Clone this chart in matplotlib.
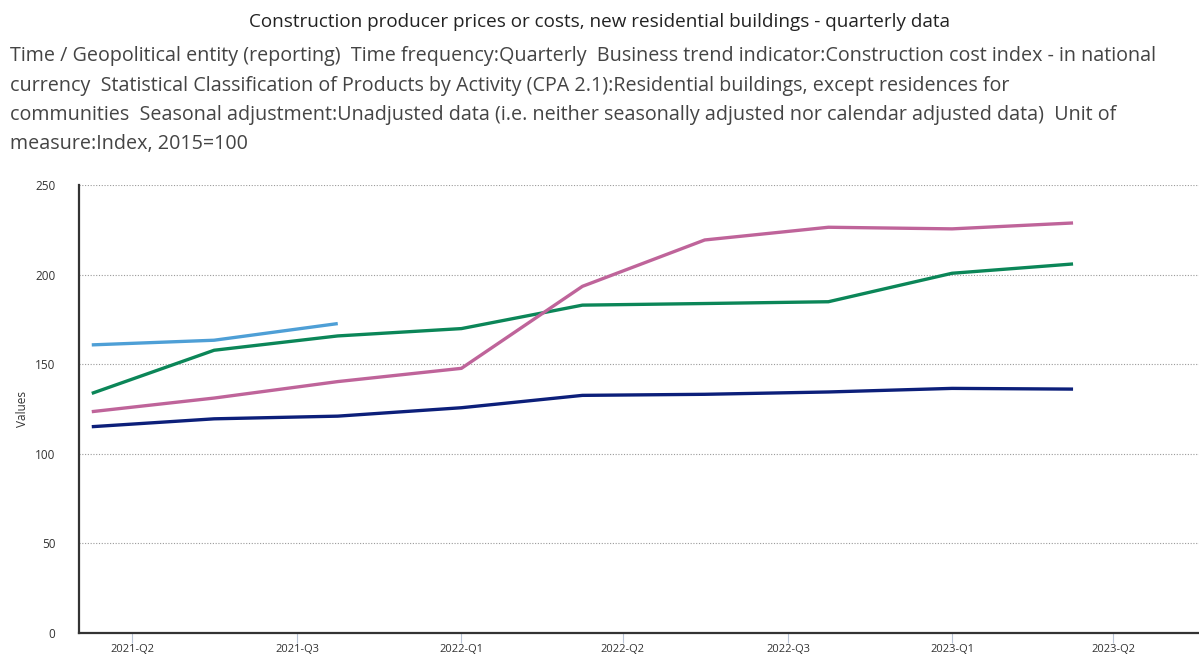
import numpy as np
import pandas as pd
import matplotlib
matplotlib.use("Agg")
import matplotlib.pyplot as plt
import matplotlib.dates as mdates

# quarterly observation dates (start of quarter)
periods = ["2021-04-01", "2021-07-01", "2021-10-01", "2022-01-01", "2022-04-01",
           "2022-07-01", "2022-10-01", "2023-01-01", "2023-04-01"]

light_blue = [160.7, 163.3, 172.6]
green = [133.6, 157.7, 165.7, 169.8, 182.9, 183.8, 184.8, 200.7, 205.9]
pink = [123.4, 131.0, 140.2, 147.6, 193.4, 219.3, 226.4, 225.5, 228.8]
navy = [115.0, 119.4, 120.9, 125.6, 132.5, 133.1, 134.4, 136.4, 136.0]

tick_dates = ["2021-05-01", "2021-09-01", "2022-01-01", "2022-05-01",
              "2022-09-01", "2023-01-01", "2023-05-01"]
tick_labels = ["2021-Q2", "2021-Q3", "2022-Q1", "2022-Q2", "2022-Q3", "2023-Q1", "2023-Q2"]
y_ticks = [0, 50, 100, 150, 200, 250]

title = "Construction producer prices or costs, new residential buildings - quarterly data"
subtitle = ["Time / Geopolitical entity (reporting)  Time frequency:Quarterly  Business trend indicator:Construction cost index - in national",
            "currency  Statistical Classification of Products by Activity (CPA 2.1):Residential buildings, except residences for",
            "communities  Seasonal adjustment:Unadjusted data (i.e. neither seasonally adjusted nor calendar adjusted data)  Unit of",
            "measure:Index, 2015=100"]

plt.rcParams['font.family'] = ['Open Sans', 'DejaVu Sans']

x = pd.to_datetime(periods)

fig = plt.figure(figsize=(11.99, 6.60), dpi=100)
ax = fig.add_axes([79 / 1199, 1 - 632.6 / 660, 1 - 79 / 1199, (632.6 - 185) / 660])

ax.plot(x[:len(light_blue)], light_blue, color="#4e9fd6", lw=2.4, solid_capstyle="butt")
ax.plot(x, green, color="#0b8658", lw=2.4, solid_capstyle="butt")
ax.plot(x, pink, color="#bf649a", lw=2.4, solid_capstyle="butt")
ax.plot(x, navy, color="#0c1f7a", lw=2.4, solid_capstyle="butt")

ax.set_ylim(0, 250)
ax.set_yticks(y_ticks)
ax.set_xlim(x[0] - pd.Timedelta(days=9.5), x[-1] + pd.Timedelta(days=93.7))
ax.set_xticks(pd.to_datetime(tick_dates))
ax.set_xticklabels(tick_labels)

ax.grid(axis="y", linestyle=(0, (1, 1.5)), color="#9a9a9a", lw=0.8)
ax.set_axisbelow(True)
for s in ["top", "right"]:
    ax.spines[s].set_visible(False)
for s in ["left", "bottom"]:
    ax.spines[s].set_color("#333333")
    ax.spines[s].set_linewidth(1.6)

ax.tick_params(axis="y", length=0, pad=17, labelsize=8.5, labelcolor="#333333")
ax.tick_params(axis="x", length=7, width=0.8, color="#b8c4d6", pad=1.5, labelsize=8, labelcolor="#333333")
ax.set_ylabel("Values", fontsize=8.5, color="#333333")
ax.yaxis.set_label_coords(-50 / 1120, 0.5)

fig.text(0.5, 1 - 22 / 660, title, ha="center", va="center", fontsize=13.6, color="#222222")
for i, line in enumerate(subtitle):
    fig.text(10 / 1199, 1 - (56 + i * 29.5) / 660, line, ha="left", va="center",
             fontsize=14.2, color="#444444")

fig.savefig("out.png", dpi=100)
